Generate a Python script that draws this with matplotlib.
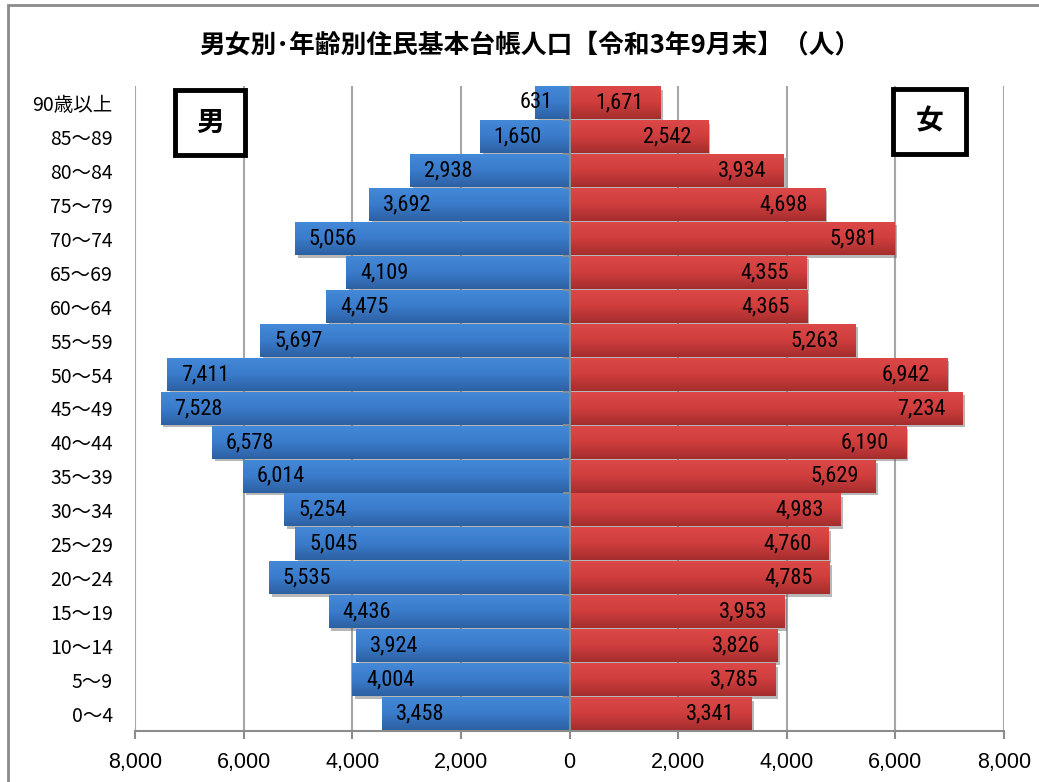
import matplotlib
matplotlib.use('Agg')
import matplotlib.pyplot as plt
import matplotlib.patheffects as pe
from matplotlib import font_manager
from matplotlib.colors import LinearSegmentedColormap
from matplotlib.patches import Rectangle
from matplotlib.ticker import FuncFormatter, MultipleLocator
import numpy as np

# -------------------------------------------------------------------------------------------------------------------- #
# Data (top row first)
# -------------------------------------------------------------------------------------------------------------------- #

age_groups = ['90歳以上', '85～89', '80～84', '75～79', '70～74', '65～69', '60～64', '55～59', '50～54',
              '45～49', '40～44', '35～39', '30～34', '25～29', '20～24', '15～19', '10～14', '5～9', '0～4']
male = [631, 1650, 2938, 3692, 5056, 4109, 4475, 5697, 7411,
        7528, 6578, 6014, 5254, 5045, 5535, 4436, 3924, 4004, 3458]
female = [1671, 2542, 3934, 4698, 5981, 4355, 4365, 5263, 6942,
          7234, 6190, 5629, 4983, 4760, 4785, 3953, 3826, 3785, 3341]

title = '男女別･年齢別住民基本台帳人口【令和3年9月末】（人）'

# -------------------------------------------------------------------------------------------------------------------- #
# Settings
# -------------------------------------------------------------------------------------------------------------------- #

W, H = 1039, 782
cjk = ['Noto Sans CJK JP', 'DejaVu Sans']
plain = ['Liberation Sans', 'DejaVu Sans']

# pick a condensed face for the value labels if one is installed
installed = {f.name for f in font_manager.fontManager.ttflist}
narrow = [n for n in ['Liberation Sans Narrow', 'Roboto Condensed', 'DejaVu Sans Condensed'] if n in installed]
narrow += ['DejaVu Sans']

blue_cmap = LinearSegmentedColormap.from_list('blue', ['#4488d8', '#3a7bcb', '#2d60a2'])
red_cmap = LinearSegmentedColormap.from_list('red', ['#dc4848', '#cf3d3d', '#a52d2d'])
grad = np.linspace(0, 1, 64).reshape(-1, 1)

fig = plt.figure(figsize=(W / 100, H / 100), dpi=100)
ax = fig.add_axes([135 / W, 1 - 731 / H, (1004 - 135) / W, (731 - 86) / H])

y = np.arange(len(age_groups))
bar_h = 0.95
shadow = [pe.SimplePatchShadow(offset=(2, -2), shadow_rgbFace='#606060', alpha=0.45), pe.Normal()]

bars_m = ax.barh(y, [-v for v in male], height=bar_h, color='#3a7bcb', zorder=2, path_effects=shadow)
bars_f = ax.barh(y, female, height=bar_h, color='#cf3d3d', zorder=2, path_effects=shadow)

# Gradient fill on each bar
for bars, cmap in [(bars_m, blue_cmap), (bars_f, red_cmap)]:
    for p in bars:
        x0, x1 = sorted([p.get_x(), p.get_x() + p.get_width()])
        yt, yb = p.get_y(), p.get_y() + p.get_height()
        ax.imshow(grad, cmap=cmap, aspect='auto', extent=(x0, x1, yb, yt), origin='upper',
                  interpolation='bilinear', zorder=3)

ax.set_xlim(-8000, 8000)
ax.set_ylim(len(age_groups) - 0.5, -0.5)

lab_kw = dict(va='center', fontsize=16, family=narrow, stretch='condensed', zorder=5,
              textcoords='offset points')

# Value labels
for yi, v in zip(y, male):
    if v < 1000:
        ax.annotate(f'{v:,}', (0, yi), xytext=(-12, 0), ha='right', **lab_kw)
    else:
        ax.annotate(f'{v:,}', (-v, yi), xytext=(10, 0), ha='left', **lab_kw)
for yi, v in zip(y, female):
    ax.annotate(f'{v:,}', (v, yi), xytext=(-12, 0), ha='right', **lab_kw)

# Axes styling
ax.xaxis.set_major_locator(MultipleLocator(2000))
ax.xaxis.set_major_formatter(FuncFormatter(lambda v, pos: f'{abs(v):,.0f}'))
ax.grid(axis='x', color='#a6a6a6', linewidth=1.5, zorder=0)
ax.set_axisbelow(True)

# category axis at zero, with small ticks between categories
ax.axvline(0, color='#8c8c8c', linewidth=1.5, zorder=4)
ax.plot(np.zeros(len(y) - 1), y[:-1] + 0.5, ls='none', marker=0, markersize=5,
        markeredgewidth=1.5, color='#8c8c8c', zorder=4)

for s in ['top', 'right', 'left']:
    ax.spines[s].set_visible(False)
ax.spines['bottom'].set_color('#8c8c8c')
ax.spines['bottom'].set_linewidth(1.5)
ax.spines['bottom'].set_zorder(4)
ax.tick_params(axis='x', length=6, width=1.5, color='#8c8c8c', pad=9)
plt.setp(ax.get_xticklabels(), family=plain, fontsize=15.5)
ax.set_yticks(y)
ax.set_yticklabels(age_groups, family=cjk, fontsize=14)
ax.tick_params(axis='y', length=0, pad=16)

# Title
fig.text(530 / W, 1 - 45 / H, title, ha='center', va='center', fontsize=18.5, fontweight='bold', family=cjk)

# Sex labels in boxes
for (x0, y0, x1, y1), txt in [((175, 90, 245, 155), '男'), ((893, 89, 966, 154), '女')]:
    fig.patches.append(Rectangle((x0 / W, 1 - y1 / H), (x1 - x0) / W, (y1 - y0) / H,
                                 transform=fig.transFigure, facecolor='white', edgecolor='black',
                                 linewidth=3.5, zorder=6))
    fig.text((x0 + x1) / 2 / W, 1 - (y0 + y1) / 2 / H, txt, ha='center', va='center',
             fontsize=20, fontweight='bold', family=cjk, zorder=7)

# Outer chart border (cropped at right and bottom)
fig.patches.append(Rectangle((8 / W, -0.1), 1.2, 1 - 5 / H + 0.1, transform=fig.transFigure,
                             facecolor='none', edgecolor='#8a8a8a', linewidth=2, zorder=10))

fig.savefig('out.png', dpi=100)
